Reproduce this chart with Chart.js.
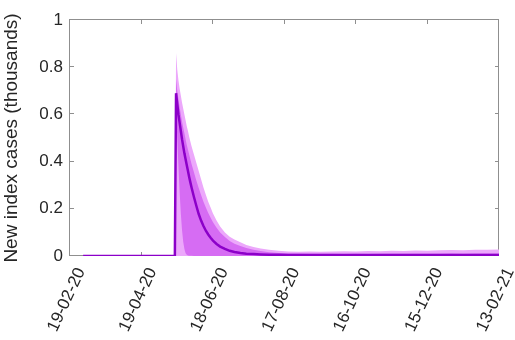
<!DOCTYPE html>
<html>
<head>
<meta charset="utf-8">
<script src="https://cdn.jsdelivr.net/npm/chart.js@4.4.1/dist/chart.umd.min.js"></script>
<style>
  html, body { margin: 0; padding: 0; background: #fff; }
  #wrap { width: 515px; height: 340px; }
</style>
</head>
<body>
<div id="wrap"><canvas id="c" width="515" height="340"></canvas></div>
<script>
// Days since 19 Feb 2020
const days = [11, 60, 88,
  89, 90, 91, 92, 93, 94, 95, 96, 97, 98, 99, 100, 101, 102,
  104, 106, 108, 110, 112, 114, 116, 118, 120,
  123, 126, 130, 134, 138, 143, 148, 154, 160, 167, 175, 183, 192, 201, 210,
  220, 230, 240, 250, 260, 270, 280, 290, 300, 310, 320, 330, 340, 350, 360];

// New index cases (thousands): median and two uncertainty bands
const meanCases = [0, 0, 0,
  0.69, 0.645, 0.60, 0.565, 0.53, 0.495, 0.465, 0.435, 0.41, 0.385, 0.36, 0.335, 0.312, 0.29,
  0.25, 0.213, 0.178, 0.15, 0.127, 0.107, 0.091, 0.077, 0.065,
  0.051, 0.04, 0.03, 0.022, 0.017, 0.013, 0.01, 0.008, 0.0066, 0.0056, 0.005, 0.0046, 0.0043, 0.0042, 0.0041,
  0.004, 0.004, 0.004, 0.004, 0.004, 0.004, 0.004, 0.004, 0.004, 0.004, 0.004, 0.004, 0.004, 0.004, 0.004];

const innerUpper = [null, null, 0,
  0.75, 0.70, 0.665, 0.63, 0.60, 0.57, 0.545, 0.52, 0.495, 0.47, 0.45, 0.43, 0.41, 0.39,
  0.355, 0.32, 0.288, 0.258, 0.23, 0.205, 0.182, 0.162, 0.143,
  0.12, 0.1, 0.08, 0.064, 0.052, 0.042, 0.034, 0.027, 0.021, 0.016, 0.013, 0.011, 0.0105, 0.01, 0.0095,
  0.0095, 0.009, 0.0095, 0.009, 0.0095, 0.01, 0.0095, 0.01, 0.0095, 0.01, 0.0105, 0.01, 0.0105, 0.011, 0.0105];

const innerLower = [null, null, 0,
  0.62, 0.5, 0.38, 0.27, 0.18, 0.11, 0.06, 0.03, 0.012, 0.005, 0.002, 0.001, 0.001, 0.001,
  0, 0, 0, 0, 0, 0, 0, 0, 0,
  0, 0, 0, 0, 0, 0, 0, 0, 0, 0, 0, 0, 0, 0, 0,
  0, 0, 0, 0, 0, 0, 0, 0, 0, 0, 0, 0, 0, 0, 0];

const outerUpper = [null, null, 0,
  0.86, 0.79, 0.745, 0.71, 0.68, 0.65, 0.625, 0.60, 0.575, 0.55, 0.53, 0.505, 0.485, 0.465,
  0.43, 0.395, 0.36, 0.325, 0.29, 0.26, 0.23, 0.205, 0.18,
  0.15, 0.125, 0.1, 0.082, 0.07, 0.058, 0.047, 0.038, 0.032, 0.027, 0.022, 0.019, 0.018, 0.019, 0.018,
  0.019, 0.02, 0.019, 0.021, 0.02, 0.022, 0.021, 0.023, 0.022, 0.024, 0.025, 0.024, 0.026, 0.027, 0.028];

const dateTicks = ['19-02-20', '19-04-20', '18-06-20', '17-08-20', '16-10-20', '15-12-20', '13-02-21'];
const yTicks = ['0', '0.2', '0.4', '0.6', '0.8', '1'];

const FONT = '"Liberation Sans", Arial, Helvetica, sans-serif';
const textColor = '#262626';
const axisColor = '#8f8f8f';
const lineColor = '#8c00c9';
const innerColor = '#d66cf3';
const outerColor = '#eca8fb';

const pts = arr => days.map((d, i) => ({ x: d, y: arr[i] }));

// Boxed axes with inward tick marks
const frame = {
  id: 'frame',
  beforeDatasetsDraw(chart) {
    const { ctx, chartArea: a, scales: { x, y } } = chart;
    ctx.save();
    ctx.strokeStyle = axisColor;
    ctx.lineWidth = 1;
    ctx.strokeRect(a.left - 0.5, a.top - 0.5, a.right - a.left, a.bottom - a.top);
    const len = 4;
    ctx.beginPath();
    x.ticks.forEach(t => {
      const px = Math.round(x.getPixelForValue(t.value)) - 0.5;
      ctx.moveTo(px, a.bottom); ctx.lineTo(px, a.bottom - len);
      ctx.moveTo(px, a.top); ctx.lineTo(px, a.top + len);
    });
    y.ticks.forEach(t => {
      const py = Math.round(y.getPixelForValue(t.value)) - 0.5;
      ctx.moveTo(a.left, py); ctx.lineTo(a.left + len, py);
      ctx.moveTo(a.right, py); ctx.lineTo(a.right - len, py);
    });
    ctx.stroke();
    ctx.restore();
  }
};

// Slanted date labels under the x axis
const dateLabels = {
  id: 'dateLabels',
  afterDraw(chart) {
    const { ctx, chartArea: a, scales: { x } } = chart;
    ctx.save();
    ctx.font = '17px ' + FONT;
    ctx.fillStyle = textColor;
    ctx.textAlign = 'right';
    ctx.textBaseline = 'middle';
    x.ticks.forEach(t => {
      const px = x.getPixelForValue(t.value);
      ctx.save();
      ctx.translate(px + 11, a.bottom + 13);
      ctx.rotate(-65 * Math.PI / 180);
      ctx.fillText(t.label, 0, 0);
      ctx.restore();
    });
    ctx.restore();
  }
};

new Chart(document.getElementById('c'), {
  type: 'line',
  data: {
    datasets: [
      { label: 'Median', data: pts(meanCases), borderColor: lineColor, borderWidth: 2.5,
        pointRadius: 0, fill: false, tension: 0, order: 0 },
      { label: 'Inner upper', data: pts(innerUpper), borderColor: 'transparent', borderWidth: 0,
        pointRadius: 0, fill: '+1', backgroundColor: innerColor, order: 1 },
      { label: 'Inner lower', data: pts(innerLower), borderColor: 'transparent', borderWidth: 0,
        pointRadius: 0, fill: false, order: 2 },
      { label: 'Outer upper', data: pts(outerUpper), borderColor: 'transparent', borderWidth: 0,
        pointRadius: 0, fill: 'origin', backgroundColor: outerColor, order: 3 }
    ]
  },
  options: {
    responsive: false,
    animation: false,
    devicePixelRatio: 1,
    layout: { padding: { top: 20, right: 16, bottom: 0, left: 0 } },
    plugins: { legend: { display: false }, tooltip: { enabled: false } },
    scales: {
      x: {
        type: 'linear', min: 0, max: 360,
        ticks: { stepSize: 60, display: false, callback: (v, i) => dateTicks[i] },
        grid: { display: false, drawTicks: false },
        border: { display: false },
        afterFit(s) { s.height = 84; }
      },
      y: {
        min: 0, max: 1,
        ticks: { stepSize: 0.2, padding: 7, color: textColor, font: { family: FONT, size: 17 },
                 callback: (v, i) => yTicks[i] },
        grid: { display: false, drawTicks: false },
        border: { display: false },
        title: { display: true, text: 'New index cases (thousands)', color: textColor,
                 font: { family: FONT, size: 19 }, padding: { top: 0, bottom: 0 } },
        afterFit(s) { s.width = 70; }
      }
    }
  },
  plugins: [frame, dateLabels]
});
</script>
</body>
</html>
